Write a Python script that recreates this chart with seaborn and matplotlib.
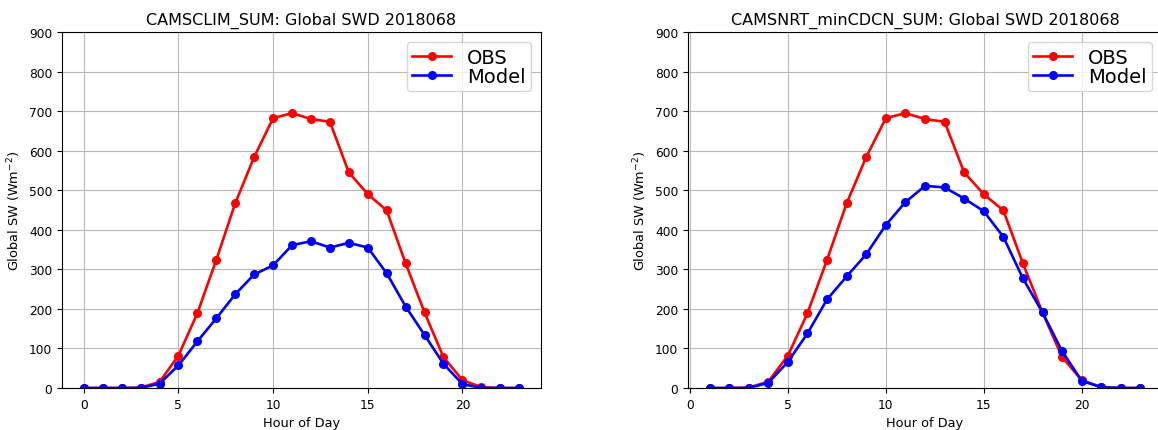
import matplotlib
matplotlib.use("Agg")
import matplotlib.pyplot as plt
import seaborn as sns
import pandas as pd

hours_left = list(range(0, 24))
obs_left = [0, 0, 0, 1, 15, 82, 189, 324, 467, 584, 682, 695, 680, 673, 545, 490, 449, 315, 191, 78, 20, 2, 0, 0]
model_left = [0, 0, 0, 0, 11, 57, 118, 176, 237, 287, 310, 361, 371, 355, 367, 355, 290, 206, 134, 61, 10, 0, 0, 0]

hours_right = list(range(1, 24))
obs_right = [0, 0, 1, 16, 82, 189, 324, 467, 584, 682, 695, 680, 673, 545, 490, 449, 315, 191, 78, 20, 2, 0, 0]
model_right = [0, 0, 0, 13, 66, 138, 224, 282, 338, 412, 470, 511, 507, 479, 447, 382, 277, 191, 93, 18, 2, 0, 0]

title_left = "CAMSCLIM_SUM: Global SWD 2018068"
title_right = "CAMSNRT_minCDCN_SUM: Global SWD 2018068"
xlabel = "Hour of Day"
ylabel = "Global SW (Wm$^{-2}$)"
yticks = list(range(0, 1000, 100))
xticks = [0, 5, 10, 15, 20]

plt.rcParams["font.family"] = ["DejaVu Sans"]

fig = plt.figure(figsize=(11.58, 4.31), dpi=100)
ax1 = fig.add_axes([62 / 1158, 42 / 431, 479 / 1158, 356 / 431])
ax2 = fig.add_axes([688 / 1158, 42 / 431, 474 / 1158, 356 / 431])


def draw(ax, hours, obs, model, title):
    df = pd.DataFrame({"hour": hours, "OBS": obs, "Model": model})
    sns.lineplot(data=df, x="hour", y="OBS", ax=ax, color="red", marker="o",
                 markersize=6.5, markeredgewidth=0, linewidth=1.9, label="OBS")
    sns.lineplot(data=df, x="hour", y="Model", ax=ax, color="blue", marker="o",
                 markersize=6.5, markeredgewidth=0, linewidth=1.9, label="Model")
    ax.set_ylim(0, 900)
    ax.set_yticks(yticks)
    ax.set_xticks(xticks)
    ax.margins(x=0.05)
    ax.grid(True, color="#b8b8b8", linewidth=0.8)
    ax.set_axisbelow(True)
    ax.tick_params(labelsize=8.8)
    ax.set_xlabel(xlabel, fontsize=9.3)
    ax.set_ylabel(ylabel, fontsize=9.3)
    ax.set_title(title, fontsize=11.5)
    ax.legend(loc="upper right", fontsize=14, handlelength=2, borderpad=0.3,
              labelspacing=0.0, handletextpad=0.8)


draw(ax1, hours_left, obs_left, model_left, title_left)
draw(ax2, hours_right, obs_right, model_right, title_right)

fig.savefig("out.png", dpi=100)
